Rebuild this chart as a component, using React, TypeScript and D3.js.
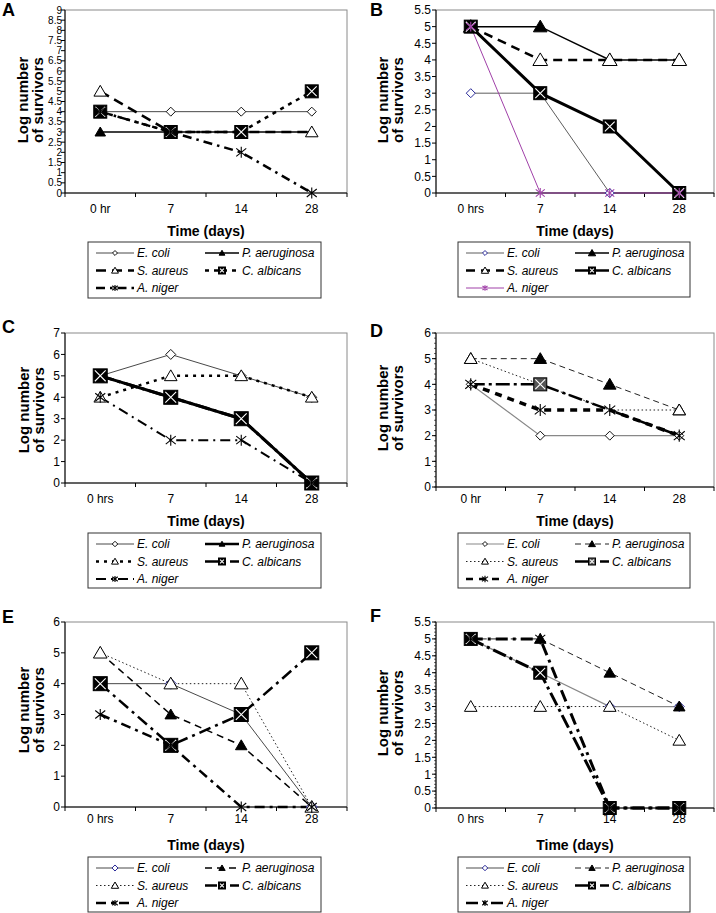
import React from "react";
import * as d3 from "d3";

// ---------- DATA ----------
const seriesNames = ["E. coli", "P. aeruginosa", "S. aureus", "C. albicans", "A. niger"];

const catsA = ["0 hr", "7", "14", "28"];
const catsB = ["0 hrs", "7", "14", "28"];
const catsC = ["0 hrs", "7", "14", "28"];
const catsD = ["0 hr", "7", "14", "28"];
const catsE = ["0 hrs", "7", "14", "28"];
const catsF = ["0 hrs", "7", "14", "28"];

// order: E. coli, P. aeruginosa, S. aureus, C. albicans, A. niger
const valuesA = [[4, 4, 4, 4], [3, 3, 3, 3], [5, 3, 3, 3], [4, 3, 3, 5], [4, 3, 2, 0]];
const valuesB = [[3, 3, 0, 0], [5, 5, 4, 4], [5, 4, 4, 4], [5, 3, 2, 0], [5, 0, 0, 0]];
const valuesC = [[5, 6, 5, 4], [5, 4, 3, 0], [4, 5, 5, 4], [5, 4, 3, 0], [4, 2, 2, 0]];
const valuesD = [[4, 2, 2, 2], [5, 5, 4, 3], [5, 4, 3, 3], [4, 4, 3, 2], [4, 3, 3, 2]];
const valuesE = [[4, 4, 3, 0], [5, 3, 2, 0], [5, 4, 4, 0], [4, 2, 3, 5], [3, 2, 0, 0]];
const valuesF = [[5, 4, 3, 3], [5, 5, 4, 3], [3, 3, 3, 2], [5, 4, 0, 0], [5, 5, 0, 0]];

const yTicksA = [0, 0.5, 1, 1.5, 2, 2.5, 3, 3.5, 4, 4.5, 5, 5.5, 6, 6.5, 7, 7.5, 8, 8.5, 9];
const yTicksB = [0, 0.5, 1, 1.5, 2, 2.5, 3, 3.5, 4, 4.5, 5, 5.5];
const yTicksC = [0, 1, 2, 3, 4, 5, 6, 7];
const yTicksD = [0, 1, 2, 3, 4, 5, 6];
const yTicksE = [0, 1, 2, 3, 4, 5, 6];
const yTicksF = [0, 0.5, 1, 1.5, 2, 2.5, 3, 3.5, 4, 4.5, 5, 5.5];

const xTitle = "Time (days)";
const yTitle1 = "Log number";
const yTitle2 = "of survivors";

// ---------- STYLES ----------
type St = { c: string; w: number; d?: string; m: string; s: number; mc: string; mf?: string; hide?: number[] };

const BLUE = "#2a2a9a";
const PURPLE = "#a040a8";

const stylesA: St[] = [
  { c: "#333", w: 0.9, m: "diamond", s: 4.5, mc: "#111" },
  { c: "#000", w: 1.5, m: "triFill", s: 5, mc: "#000" },
  { c: "#000", w: 2.5, d: "10,6", m: "triOpen", s: 6, mc: "#000" },
  { c: "#000", w: 2.5, d: "4,5", m: "sqX", s: 6.5, mc: "#000" },
  { c: "#000", w: 2.5, d: "9,5,2.5,5", m: "star", s: 5, mc: "#000" },
];
const stylesB: St[] = [
  { c: "#333", w: 0.8, m: "diamond", s: 4.5, mc: BLUE },
  { c: "#000", w: 1.5, m: "triFill", s: 6.5, mc: "#000" },
  { c: "#000", w: 2.5, d: "9,6", m: "triOpen", s: 7, mc: "#000" },
  { c: "#000", w: 3, m: "sqX", s: 6.5, mc: "#000" },
  { c: PURPLE, w: 1, m: "star", s: 4.5, mc: PURPLE },
];
const stylesC: St[] = [
  { c: "#333", w: 0.9, m: "diamond", s: 5, mc: "#111" },
  { c: "#000", w: 3, m: "triFill", s: 5, mc: "#000" },
  { c: "#000", w: 2.5, d: "3,5", m: "triOpen", s: 6, mc: "#000" },
  { c: "#000", w: 3, d: "14,4,3,4", m: "sqX", s: 7, mc: "#000" },
  { c: "#000", w: 2, d: "10,5,2,5", m: "star", s: 5, mc: "#000" },
];
const stylesD: St[] = [
  { c: "#888", w: 1.2, m: "diamond", s: 4.5, mc: "#111" },
  { c: "#222", w: 1, d: "6,4", m: "triFill", s: 6, mc: "#000" },
  { c: "#222", w: 1, d: "1.5,2.5", m: "triOpen", s: 6, mc: "#000", hide: [2] },
  { c: "#000", w: 2.5, d: "14,4,3,4", m: "sqX", s: 6.5, mc: "#000", mf: "#555", hide: [0, 2, 3] },
  { c: "#000", w: 3.5, d: "7,6", m: "star", s: 5.5, mc: "#000" },
];
const stylesE: St[] = [
  { c: "#333", w: 0.9, m: "diamond", s: 5.5, mc: BLUE },
  { c: "#000", w: 1.5, d: "7,5", m: "triFill", s: 5.5, mc: "#000" },
  { c: "#222", w: 1, d: "1.5,2.5", m: "triOpen", s: 6.5, mc: "#000" },
  { c: "#000", w: 2.5, d: "12,5,3,5", m: "sqX", s: 7, mc: "#000" },
  { c: "#000", w: 2.5, d: "10,5,3,5", m: "star", s: 5, mc: "#000" },
];
const stylesF: St[] = [
  { c: "#888", w: 1.3, m: "diamond", s: 5, mc: BLUE },
  { c: "#222", w: 1, d: "6,4", m: "triFill", s: 5.5, mc: "#000" },
  { c: "#222", w: 1, d: "1.5,2.5", m: "triOpen", s: 6, mc: "#000" },
  { c: "#000", w: 3, d: "14,4,3,4", m: "sqX", s: 6.5, mc: "#000" },
  { c: "#000", w: 3, d: "12,5,3,5", m: "star", s: 5, mc: "#000" },
];

// ---------- LAYOUT ----------
type Geo = {
  x0: number; x1: number; yTop: number; yBot: number; yMax: number;
  tickFs: number; tickGap: number; tickY: number; titleY: number;
  lx: number; ly: number; lw: number; lh: number;
  letter: string; letX: number; letY: number; ylabX: number; ylabCy: number; minor?: number;
};

const geoA: Geo = { x0: 65, x1: 347, yTop: 10, yBot: 193, yMax: 9, tickFs: 10, tickGap: 3, tickY: 213, titleY: 236, lx: 88, ly: 242, lw: 233, lh: 56, letter: "A", letX: 2, letY: 16, ylabX: 28, ylabCy: 100 };
const geoB: Geo = { x0: 436, x1: 714, yTop: 10, yBot: 193, yMax: 5.5, tickFs: 12, tickGap: 5, tickY: 213, titleY: 236, lx: 458, ly: 242, lw: 232, lh: 55, letter: "B", letX: 370, letY: 16, ylabX: 388, ylabCy: 100 };
const geoC: Geo = { x0: 65, x1: 347, yTop: 333, yBot: 483, yMax: 7, tickFs: 12, tickGap: 5, tickY: 503, titleY: 526, lx: 88, ly: 533, lw: 233, lh: 55, letter: "C", letX: 2, letY: 333, ylabX: 29, ylabCy: 410 };
const geoD: Geo = { x0: 436, x1: 714, yTop: 333, yBot: 487, yMax: 6, tickFs: 12, tickGap: 5, tickY: 503, titleY: 526, lx: 458, ly: 533, lw: 232, lh: 55, letter: "D", letX: 370, letY: 337, ylabX: 388, ylabCy: 408, minor: 0.2 };
const geoE: Geo = { x0: 65, x1: 347, yTop: 622, yBot: 807, yMax: 6, tickFs: 12, tickGap: 5, tickY: 823, titleY: 850, lx: 88, ly: 857, lw: 233, lh: 55, letter: "E", letX: 2, letY: 623, ylabX: 29, ylabCy: 710 };
const geoF: Geo = { x0: 436, x1: 714, yTop: 622, yBot: 808, yMax: 5.5, tickFs: 12, tickGap: 5, tickY: 823, titleY: 850, lx: 458, ly: 857, lw: 232, lh: 55, letter: "F", letX: 370, letY: 622, ylabX: 388, ylabCy: 713, minor: 0.1 };

const FONT = "'Liberation Sans', Arial, Helvetica, sans-serif";

function Marker({ t, x, y, s, c, f }: { t: string; x: number; y: number; s: number; c: string; f?: string }) {
  if (t === "diamond")
    return <polygon points={`${x},${y - s} ${x + s},${y} ${x},${y + s} ${x - s},${y}`} fill="white" stroke={c} strokeWidth={1} />;
  if (t === "triFill" || t === "triOpen") {
    const pts = `${x},${y - s} ${x + s * 1.05},${y + s * 0.8} ${x - s * 1.05},${y + s * 0.8}`;
    return <polygon points={pts} fill={t === "triFill" ? c : "white"} stroke={c} strokeWidth={1} strokeLinejoin="miter" />;
  }
  if (t === "sqX") {
    const k = s - 1.6;
    return (
      <g>
        <rect x={x - s} y={y - s} width={2 * s} height={2 * s} fill={f || "#000"} stroke="#000" strokeWidth={1} />
        <path d={`M${x - k},${y - k}L${x + k},${y + k}M${x - k},${y + k}L${x + k},${y - k}`} stroke="white" strokeWidth={1.1} />
      </g>
    );
  }
  return (
    <path
      d={`M${x - s},${y - s * 0.8}L${x + s},${y + s * 0.8}M${x - s},${y + s * 0.8}L${x + s},${y - s * 0.8}M${x},${y - s * 1.1}L${x},${y + s * 1.1}`}
      stroke={c}
      strokeWidth={1.1}
      fill="none"
    />
  );
}

function Panel({ g, cats, values, styles, yTicks }: { g: Geo; cats: string[]; values: number[][]; styles: St[]; yTicks: number[] }) {
  const xb = d3.scaleBand<string>().domain(cats).range([g.x0, g.x1]).paddingInner(0).paddingOuter(0);
  const xc = (c: string) => (xb(c) as number) + xb.bandwidth() / 2;
  const y = d3.scaleLinear().domain([0, g.yMax]).range([g.yBot, g.yTop]);
  const line = d3
    .line<number>()
    .x((_, i) => xc(cats[i]))
    .y((v) => y(v));
  const bounds = cats.map((c) => xb(c) as number).concat([g.x1]);
  const minorTicks = g.minor ? d3.range(0, g.yMax + 1e-6, g.minor) : [];
  const rowY = (r: number) => g.ly + 11 + r * 17.5;

  return (
    <g fontFamily={FONT}>
      <text x={g.letX} y={g.letY} fontSize={18} fontWeight="bold">{g.letter}</text>
      <text transform={`translate(${g.ylabX},${g.ylabCy}) rotate(-90)`} fontSize={15} fontWeight="bold" textAnchor="middle">
        <tspan x={0} y={0}>{yTitle1}</tspan>
        <tspan x={0} y={15}>{yTitle2}</tspan>
      </text>
      <rect x={g.x0} y={g.yTop} width={g.x1 - g.x0} height={g.yBot - g.yTop} fill="white" stroke="#8a8a8a" strokeWidth={1} />
      <line x1={g.x0} x2={g.x0} y1={g.yTop} y2={g.yBot} stroke="#000" strokeWidth={1} />
      <line x1={g.x0} x2={g.x1} y1={g.yBot} y2={g.yBot} stroke="#000" strokeWidth={1} />
      {minorTicks.map((v, i) => (
        <line key={"mn" + i} x1={g.x0 - 2} x2={g.x0} y1={y(v)} y2={y(v)} stroke="#000" strokeWidth={0.6} />
      ))}
      {yTicks.map((v) => (
        <g key={"yt" + v}>
          <line x1={g.x0 - 4} x2={g.x0} y1={y(v)} y2={y(v)} stroke="#000" strokeWidth={1} />
          <text x={g.x0 - g.tickGap} y={y(v) + g.tickFs * 0.36} fontSize={g.tickFs} textAnchor="end">{String(v)}</text>
        </g>
      ))}
      {bounds.map((b, i) => (
        <line key={"xt" + i} x1={b} x2={b} y1={g.yBot} y2={g.yBot + 4} stroke="#000" strokeWidth={1} />
      ))}
      {cats.map((c) => (
        <text key={"xl" + c} x={xc(c)} y={g.tickY} fontSize={12} textAnchor="middle">{c}</text>
      ))}
      <text x={(g.x0 + g.x1) / 2} y={g.titleY} fontSize={14} fontWeight="bold" textAnchor="middle">{xTitle}</text>
      {values.map((vals, si) => (
        <path key={"ln" + si} d={line(vals) || ""} fill="none" stroke={styles[si].c} strokeWidth={styles[si].w} strokeDasharray={styles[si].d} />
      ))}
      {values.map((vals, si) => (
        <g key={"mk" + si}>
          {vals.map((v, i) =>
            styles[si].hide && styles[si].hide!.includes(i) ? null : (
              <Marker key={i} t={styles[si].m} x={xc(cats[i])} y={y(v)} s={styles[si].s} c={styles[si].mc} f={styles[si].mf} />
            )
          )}
        </g>
      ))}
      <rect x={g.lx} y={g.ly} width={g.lw} height={g.lh} fill="white" stroke="#333" strokeWidth={1} />
      {seriesNames.map((nm, si) => {
        const col = si % 2;
        const row = Math.floor(si / 2);
        const sx0 = g.lx + (col ? 117 : 8);
        const sx1 = g.lx + (col ? 151 : 46);
        const ly = rowY(row);
        const st = styles[si];
        return (
          <g key={"lg" + si}>
            <line x1={sx0} x2={sx1} y1={ly} y2={ly} stroke={st.c} strokeWidth={Math.min(st.w, 2.5)} strokeDasharray={st.d} />
            <Marker t={st.m} x={(sx0 + sx1) / 2} y={ly} s={Math.min(st.s * 0.55, 3.5)} c={st.mc} f={st.mf} />
            <text x={sx1 + 3} y={ly + 4} fontSize={12} fontStyle="italic">{nm}</text>
          </g>
        );
      })}
    </g>
  );
}

export default function App() {
  return (
    <svg width={716} height={913} style={{ position: "absolute", left: 0, top: 0, background: "white" }}>
      <rect width={716} height={913} fill="white" />
      <Panel g={geoA} cats={catsA} values={valuesA} styles={stylesA} yTicks={yTicksA} />
      <Panel g={geoB} cats={catsB} values={valuesB} styles={stylesB} yTicks={yTicksB} />
      <Panel g={geoC} cats={catsC} values={valuesC} styles={stylesC} yTicks={yTicksC} />
      <Panel g={geoD} cats={catsD} values={valuesD} styles={stylesD} yTicks={yTicksD} />
      <Panel g={geoE} cats={catsE} values={valuesE} styles={stylesE} yTicks={yTicksE} />
      <Panel g={geoF} cats={catsF} values={valuesF} styles={stylesF} yTicks={yTicksF} />
    </svg>
  );
}
